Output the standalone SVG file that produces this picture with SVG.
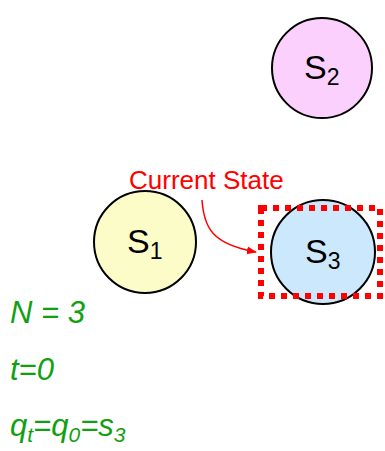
<svg xmlns="http://www.w3.org/2000/svg" width="385" height="451" viewBox="0 0 385 451">
<style>
.st{stroke:#000;stroke-width:2}
.lbl{font-family:"Liberation Sans",Arial,sans-serif;font-size:34px;fill:#000}
.sub{font-size:23px}
.g{font-family:"Liberation Sans",Arial,sans-serif;font-size:31px;font-style:italic;fill:#11a011}
.gs{font-size:21px}
</style>
<defs>
<marker id="ah" markerWidth="10" markerHeight="10" refX="9" refY="5" orient="auto" markerUnits="userSpaceOnUse">
<path d="M0,1 L10,5 L0,9 Z" fill="#f00"/>
</marker>
</defs>
<rect width="385" height="451" fill="#fff"/>
<g id="s2">
<circle cx="322" cy="68" r="50" fill="#fcd0fc" class="st"/>
<text class="lbl" x="304" y="79">S<tspan class="sub" dy="6">2</tspan></text>
</g>
<g id="s1">
<circle cx="145" cy="242" r="51" fill="#fcfcc8" class="st"/>
<text class="lbl" x="127" y="253">S<tspan class="sub" dy="6">1</tspan></text>
</g>
<g id="s3">
<circle cx="323" cy="252" r="52" fill="#cce8fc" class="st"/>
<text class="lbl" x="305" y="263">S<tspan class="sub" dy="6">3</tspan></text>
</g>
<g id="current">
<rect x="261" y="208" width="119" height="88" fill="none" stroke="#f00" stroke-width="6" stroke-dasharray="6,6"/>
<text x="129" y="189" font-family="Liberation Sans,Arial,sans-serif" font-size="26" fill="#f00">Current State</text>
</g>
<g id="connectors">
<path d="M202,200 C204,228 212,244 256,252" fill="none" stroke="#f00" stroke-width="1.5" marker-end="url(#ah)"/>
</g>
<g id="info">
<text class="g" x="10" y="323">N = 3</text>
<text class="g" x="10" y="380">t=0</text>
<text class="g" x="10" y="436">q<tspan class="gs" dy="6">t</tspan><tspan dy="-6">=q</tspan><tspan class="gs" dy="6">0</tspan><tspan dy="-6">=s</tspan><tspan class="gs" dy="6">3</tspan></text>
</g>
</svg>
